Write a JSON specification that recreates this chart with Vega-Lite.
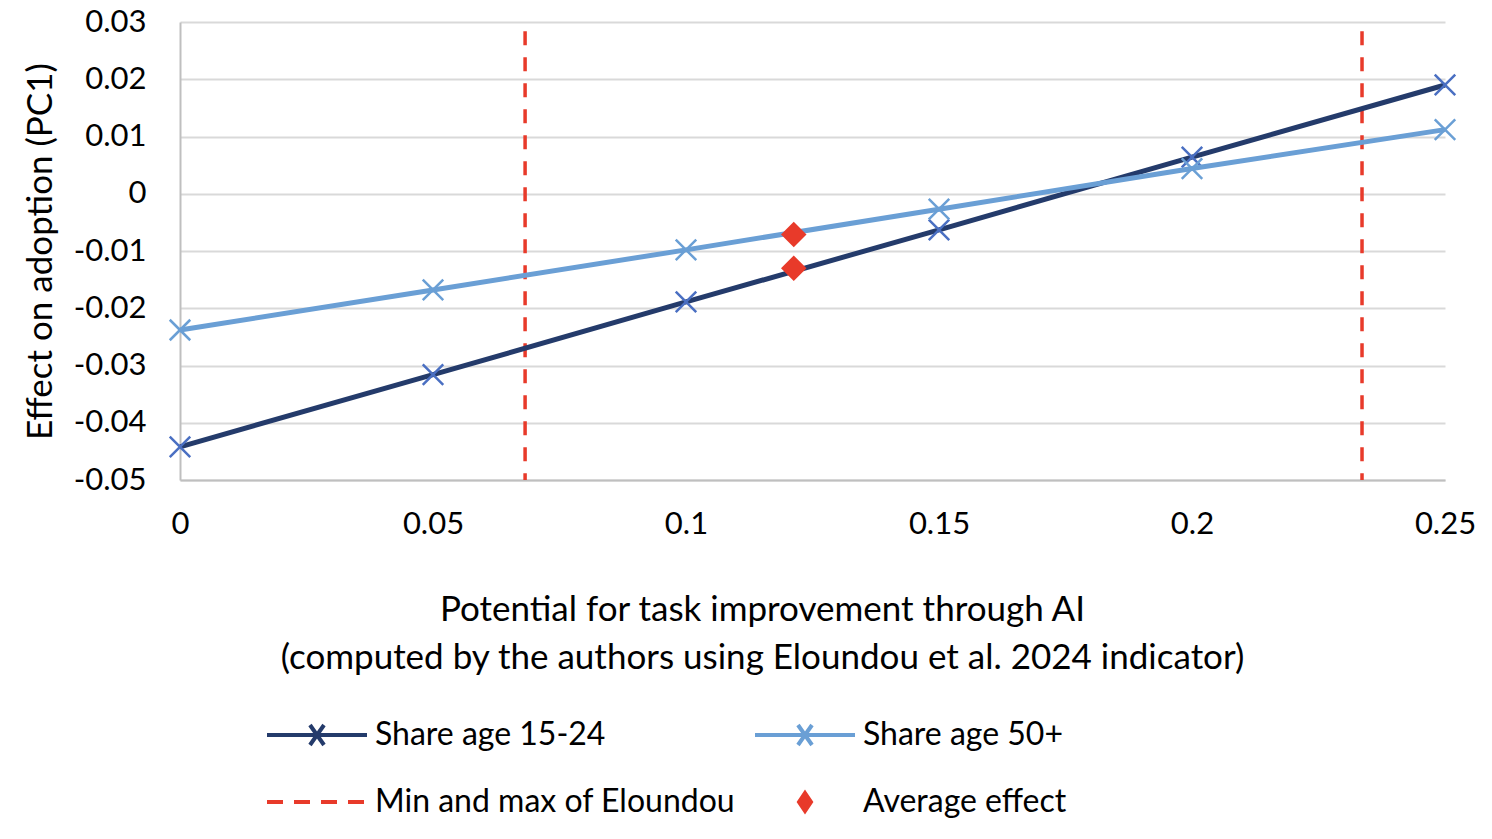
{
  "$schema": "https://vega.github.io/schema/vega-lite/v6.json",
  "width": 1265,
  "height": 458,
  "autosize": {"type": "none"},
  "padding": {"left": 180, "top": 22, "right": 47, "bottom": 359},
  "background": "white",
  "config": {
    "view": {"stroke": null},
    "font": "Lato",
    "axis": {"labelColor": "black", "titleColor": "black", "titleFontWeight": "normal"}
  },
  "data": {
    "values": [
      {"potential": 0, "effect": -0.0442, "series": "Share age 15-24"},
      {"potential": 0.05, "effect": -0.0316, "series": "Share age 15-24"},
      {"potential": 0.1, "effect": -0.0189, "series": "Share age 15-24"},
      {"potential": 0.15, "effect": -0.0063, "series": "Share age 15-24"},
      {"potential": 0.2, "effect": 0.0064, "series": "Share age 15-24"},
      {"potential": 0.25, "effect": 0.019, "series": "Share age 15-24"},
      {"potential": 0, "effect": -0.0238, "series": "Share age 50+"},
      {"potential": 0.05, "effect": -0.0168, "series": "Share age 50+"},
      {"potential": 0.1, "effect": -0.0098, "series": "Share age 50+"},
      {"potential": 0.15, "effect": -0.0027, "series": "Share age 50+"},
      {"potential": 0.2, "effect": 0.0044, "series": "Share age 50+"},
      {"potential": 0.25, "effect": 0.0112, "series": "Share age 50+"},
      {"potential": 0.0682, "effect": 0.0284, "effect2": -0.05, "series": "Min and max of Eloundou"},
      {"potential": 0.2336, "effect": 0.0284, "effect2": -0.05, "series": "Min and max of Eloundou"},
      {"potential": 0.1213, "effect": -0.0071, "series": "Average effect"},
      {"potential": 0.1213, "effect": -0.013, "series": "Average effect"}
    ]
  },
  "encoding": {
    "x": {
      "field": "potential",
      "type": "quantitative",
      "scale": {"domain": [0, 0.25], "nice": false, "zero": false},
      "axis": {
        "values": [0, 0.05, 0.1, 0.15, 0.2, 0.25],
        "labelExpr": "'' + datum.value",
        "grid": false,
        "ticks": false,
        "domainColor": "#bfbfbf",
        "domainWidth": 2,
        "labelFontSize": 31,
        "labelPadding": 29,
        "labelFlush": false,
        "title": ["Potential for task improvement through AI", "(computed by the authors using Eloundou et al. 2024 indicator)"],
        "titleFontSize": 35,
        "titleX": 582,
        "titleY": 112,
        "titleAlign": "center",
        "titleBaseline": "top",
        "titleLineHeight": 48
      }
    },
    "y": {
      "field": "effect",
      "type": "quantitative",
      "scale": {"domain": [-0.05, 0.03], "nice": false, "zero": false},
      "axis": {
        "values": [-0.05, -0.04, -0.03, -0.02, -0.01, 0, 0.01, 0.02, 0.03],
        "labelExpr": "'' + datum.value",
        "grid": true,
        "gridColor": "#d9d9d9",
        "gridWidth": 2,
        "ticks": false,
        "domainColor": "#bfbfbf",
        "domainWidth": 2,
        "labelFontSize": 31,
        "labelPadding": 34,
        "labelFlush": false,
        "title": "Effect on  adoption (PC1)",
        "titleFontSize": 35,
        "titleX": -140,
        "titleY": 229,
        "titleAngle": -90,
        "titleAlign": "center",
        "titleBaseline": "middle"
      }
    }
  },
  "layer": [
    {
      "transform": [{"filter": "datum.series === 'Min and max of Eloundou'"}],
      "mark": {"type": "rule", "strokeDash": [14, 12], "strokeWidth": 3.5},
      "encoding": {
        "y2": {"field": "effect2"},
        "color": {
          "field": "series",
          "type": "nominal",
          "scale": {
            "domain": ["Share age 15-24", "Share age 50+", "Min and max of Eloundou", "Average effect"],
            "range": ["#243b6b", "#6a9fd5", "#e83a2a", "#e83a2a"]
          },
          "legend": {
            "title": null,
            "orient": "none",
            "legendX": 85,
            "legendY": 691,
            "columns": 2,
            "direction": "horizontal",
            "padding": 0,
            "symbolSize": 1600,
            "symbolStrokeWidth": 4,
            "symbolOffset": 30,
            "labelOffset": 36,
            "labelFontSize": 32,
            "labelColor": "black",
            "labelLimit": 0,
            "rowPadding": 27,
            "columnPadding": 11,
            "encode": {
              "symbols": {
                "update": {
                  "shape": {"signal": "datum.value === 'Average effect' ? 'M0,-0.45L0.3,0L0,0.45L-0.3,0Z' : datum.value === 'Min and max of Eloundou' ? 'M-2.5,0L2.5,0' : 'M-2.5,0L2.5,0M-0.35,-0.5L0.35,0.5M-0.35,0.5L0.35,-0.5'"},
                  "fill": {"signal": "datum.value === 'Average effect' ? scale('color', datum.value) : 'transparent'"},
                  "stroke": {"signal": "datum.value === 'Average effect' ? 'transparent' : scale('color', datum.value)"},
                  "strokeDash": {"signal": "datum.value === 'Min and max of Eloundou' ? [16, 11] : []"},
                  "opacity": {"value": 1}
                }
              }
            }
          }
        }
      }
    },
    {
      "transform": [{"filter": "datum.series === 'Share age 15-24'"}],
      "mark": {"type": "line", "strokeWidth": 5},
      "encoding": {"color": {"field": "series", "type": "nominal"}}
    },
    {
      "transform": [{"filter": "datum.series === 'Share age 15-24'"}],
      "mark": {"type": "point", "shape": "M-1,-1L1,1M-1,1L1,-1", "filled": false, "size": 420, "strokeWidth": 2.5, "color": "#4a6fc2", "opacity": 1}
    },
    {
      "transform": [{"filter": "datum.series === 'Share age 50+'"}],
      "mark": {"type": "line", "strokeWidth": 5},
      "encoding": {"color": {"field": "series", "type": "nominal"}}
    },
    {
      "transform": [{"filter": "datum.series === 'Share age 50+'"}],
      "mark": {"type": "point", "shape": "M-1,-1L1,1M-1,1L1,-1", "filled": false, "size": 420, "strokeWidth": 2.5, "color": "#6a9fd5", "opacity": 1}
    },
    {
      "transform": [{"filter": "datum.series === 'Average effect'"}],
      "mark": {"type": "point", "shape": "diamond", "filled": true, "size": 650, "opacity": 1},
      "encoding": {"color": {"field": "series", "type": "nominal"}}
    }
  ]
}
